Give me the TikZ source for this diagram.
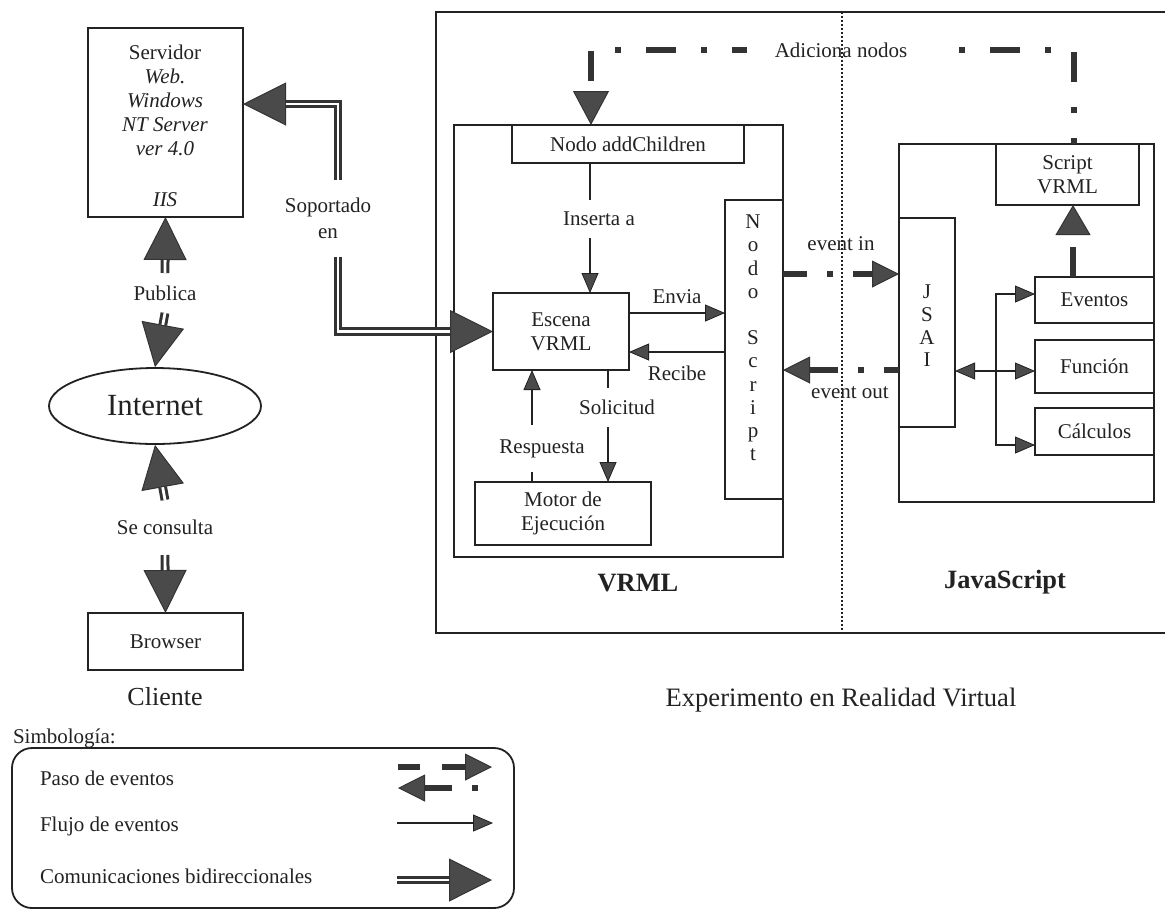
\documentclass[tikz,border=0pt]{standalone}
\usepackage{fontspec}
\setmainfont{Liberation Serif}
\usetikzlibrary{arrows.meta,shapes.geometric,calc}
\definecolor{ink}{HTML}{222222}
\definecolor{headfill}{HTML}{4A4A4A}
\definecolor{thickc}{HTML}{333333}
\tikzset{
  base/.style={font=\fontsize{10.5}{12}\selectfont, text=ink},
  box/.style={draw=ink, line width=0.9pt, inner sep=0pt, outer sep=0pt, align=center, base},
  lbl/.style={inner sep=0pt, outer sep=0pt, align=center, base},
  big/.style={inner sep=0pt, text=ink, font=\fontsize{13.2}{15}\selectfont\bfseries},
  >={Triangle[length=10pt,width=8.5pt,line width'=0.4pt,fill=headfill]},
  flow/.style={draw=ink, line width=0.75pt, ->},
  paso/.style={draw=thickc, line width=3pt, -{Triangle[length=13.5pt,width=13.5pt,line width'=0.5pt,fill=headfill]}},
  bidir/.style={draw=thickc, line width=4.4pt, -{Triangle[length=21.5pt,width=21.5pt,line width'=0.5pt,fill=headfill]},
    postaction={draw=white, line width=1.4pt, shorten >=21.5pt, -}},
}
\newcommand\mkbox[7][]{\node[box,#1,minimum width={(#5-#3)*0.5pt},minimum height={(#6-#4)*0.5pt}] (#2) at ({(#3+#5)/2},{(#4+#6)/2}) {#7};}
\begin{document}
\begin{tikzpicture}[x=0.5pt,y=-0.5pt]
\useasboundingbox (0,0) rectangle (1165,917);
\fill[white] (0,0) rectangle (1165,917);

% outer experiment frame
\draw[draw=ink, line width=0.9pt] (1165,12) -- (436,12) -- (436,633) -- (1165,633);

% boxes
\mkbox{srv}{88}{28}{243}{217}{}
\mkbox{browser}{88}{613}{243}{670}{Browser}
\mkbox{vrml}{454}{125}{783}{557}{}
\mkbox{addch}{512}{125}{744}{163}{Nodo addChildren}
\mkbox{escena}{493}{293}{629}{370}{Escena\\VRML}
\mkbox{nscript}{725}{200}{783}{499}{}
\mkbox{motor}{475}{482}{651}{545}{Motor de\\Ejecución}
\mkbox{js}{899}{144}{1154}{502}{}
\mkbox{script}{996}{144}{1139}{205}{Script\\VRML}
\mkbox{jsai}{899}{218}{955}{427}{}
\mkbox{eventos}{1035}{277}{1154}{323}{Eventos}
\mkbox{funcion}{1035}{340}{1154}{393}{Función}
\mkbox{calculos}{1035}{408}{1154}{455}{Cálculos}

\node[ellipse, draw=ink, line width=0.9pt, minimum width=106pt, minimum height=38pt, inner sep=0pt, text=ink, font=\fontsize{15.4}{18}\selectfont] (internet) at (155,406) {Internet};

% texts
\node[lbl] (srvtxt) at (165,100) {Servidor\\\textit{Web.}\\\textit{Windows}\\\textit{NT Server}\\\textit{ver 4.0}};
\node[lbl] (iis) at (165,200) {\textit{IIS}};
\node[lbl, font=\fontsize{10.5}{11.6}\selectfont] (nstxt) at (753,338) {N\\o\\d\\o\\\mbox{}\\S\\c\\r\\i\\p\\t};
\node[lbl, font=\fontsize{10.5}{11.3}\selectfont] (jsaitxt) at (927,326) {J\\S\\A\\I};

\node[lbl, minimum height=20pt] (publica) at (165,293) {Publica};
\node[lbl, minimum height=27.5pt] (consulta) at (165,527.5) {Se consulta};
\node[lbl, font=\fontsize{10.5}{13}\selectfont, minimum height=38.5pt] (sop) at (328,218.5) {Soportado\\en};
\node[lbl, font=\fontsize{13}{15}\selectfont] (cliente) at (165,697) {Cliente};
\node[big] (vrmllbl) at (638,583) {VRML};
\node[big] (jslbl) at (1005,582) {JavaScript};
\node[lbl, font=\fontsize{13.3}{16}\selectfont] (exp) at (841,700) {Experimento en Realidad Virtual};
\node[lbl, anchor=west] (simb) at (13,738) {Simbología:};
\node[lbl] (envia) at (677,297) {Envia};
\node[lbl] (recibe) at (677,373) {Recibe};
\node[lbl, minimum height=19pt] (inserta) at (599,219) {Inserta a};
\node[lbl, minimum height=19.5pt] (solicitud) at (617,407.5) {Solicitud};
\node[lbl, minimum height=23.5pt] (respuesta) at (542,448.5) {Respuesta};
\node[lbl] (evin) at (841,244) {event in};
\node[lbl] (evout) at (850,393) {event out};

% bidirectional communications
\draw[bidir] (publica.north) -- (srv.south);
\draw[bidir] (publica.south) -- (internet.north);
\draw[bidir] (consulta.north) -- (internet.south);
\draw[bidir] (consulta.south) -- (browser.north);
\draw[bidir] ([xshift=5pt]sop.north) |- ([yshift=9.25pt]srv.east);
\draw[bidir] ([xshift=5pt]sop.south) |- (escena.west);

% Adiciona nodos
\draw[paso, dash pattern=on 15pt off 12.5pt on 3pt off 12.5pt, dash phase=12pt,
  -{Triangle[length=17pt,width=18pt,line width'=0.5pt,fill=headfill]}]
  ([xshift=3.25pt]script.north) -- ++(0,-94) -| ([xshift=-18.5pt]addch.north);
\node[lbl, fill=white, inner xsep=14pt, inner ysep=5pt] (adic) at (841,50) {Adiciona nodos};

% VRML flows
\draw[flow, -] ([xshift=-19pt]addch.south) -- ([xshift=-4.5pt]inserta.north);
\draw[flow] ([xshift=-4.5pt]inserta.south) -- ([xshift=14.5pt]escena.north);
\draw[flow] ([yshift=9.25pt]escena.east) -- ([yshift=18.25pt]nscript.west);
\draw[flow] ([yshift=-1.25pt]nscript.west) -- ([yshift=-10.25pt]escena.east);
\draw[flow, -] ([xshift=23.5pt]escena.south) -- ([xshift=-4.5pt]solicitud.north);
\draw[flow] ([xshift=-4.5pt]solicitud.south) -- ([xshift=22.5pt]motor.north);
\draw[flow, -] ([xshift=-15.5pt]motor.north) -- ([xshift=-5pt]respuesta.south);
\draw[flow] ([xshift=-5pt]respuesta.north) -- ([xshift=-14.5pt]escena.south);

% event in / out
\draw[paso, dash pattern=on 12pt off 10pt on 3pt off 10pt] ([yshift=37.75pt]nscript.east) -- ([yshift=24.25pt]jsai.west);
\draw[paso, dash pattern=on 7.5pt off 10pt on 3pt off 10pt on 14pt off 10pt] ([yshift=-23.75pt]jsai.west) -- ([yshift=-10.25pt]nscript.east);

% JavaScript internals
\draw[paso, dash pattern=on 15pt off 30pt, -{Triangle[length=15pt,width=17.5pt,line width'=0.5pt,fill=headfill]}]
  ([xshift=-10.75pt]eventos.north) -- ([xshift=2.75pt]script.south);
\coordinate (bus) at (996,371);
\draw[flow, <->] ([yshift=-24.25pt]jsai.east) -- ([yshift=-2.25pt]funcion.west);
\draw[flow] (bus) |- ([yshift=3pt]eventos.west);
\draw[flow] (bus) |- ([yshift=-6.75pt]calculos.west);

% divider
\draw[draw=ink, line width=0.7pt, dash pattern=on 1pt off 1pt] (842,12) -- (842,633);

% legend
\draw[draw=ink, line width=0.9pt, rounded corners=10pt] (12,748) rectangle (514,908);
\node[lbl, anchor=west] (lg1) at (40,778) {Paso de eventos};
\node[lbl, anchor=west] (lg2) at (40,826) {Flujo de eventos};
\node[lbl, anchor=west] (lg3) at (40,876) {Comunicaciones bidireccionales};
\draw[paso, dash pattern=on 11pt off 11pt on 13pt] (398,767) -- (492,767);
\draw[paso, dash pattern=on 3pt off 10pt on 14pt] (478,788) -- (398,788);
\draw[flow] (397,823) -- (493,823);
\draw[bidir] (397,880) -- (492,880);
\end{tikzpicture}
\end{document}
